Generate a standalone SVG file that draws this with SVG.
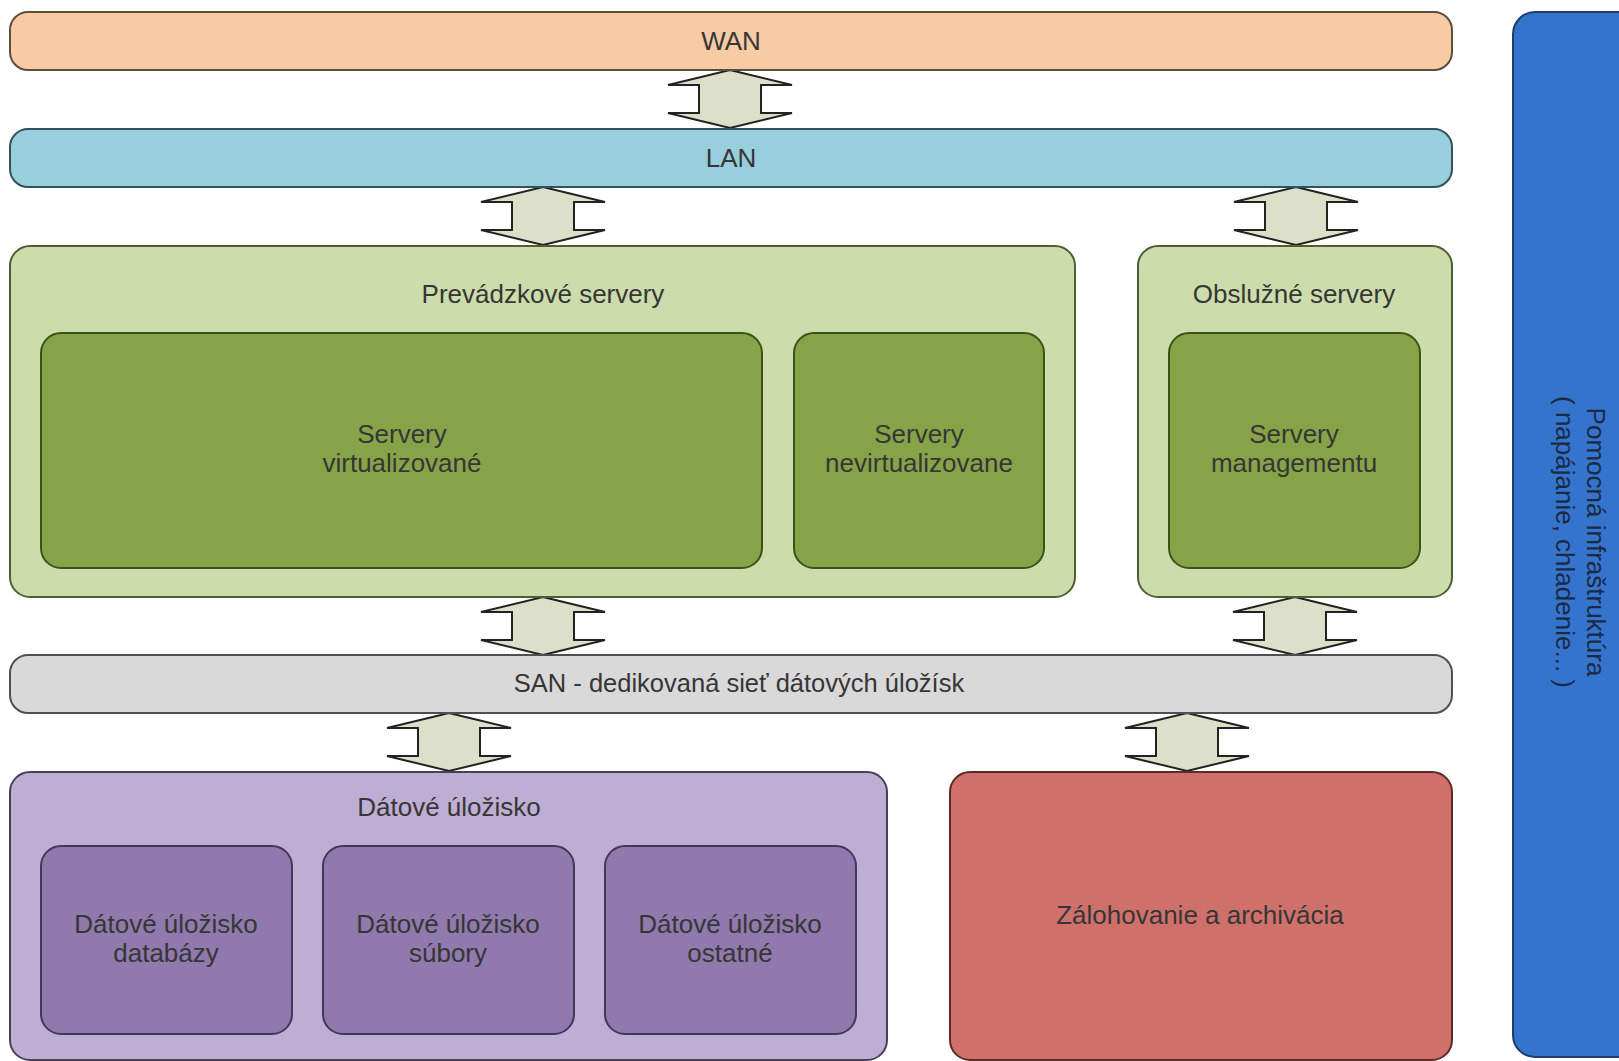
<svg xmlns="http://www.w3.org/2000/svg" xmlns:xlink="http://www.w3.org/1999/xlink" width="1619" height="1061" viewBox="0 0 1619 1061">
<style>
text{font-family:"Liberation Sans",Arial,sans-serif;font-size:26px;fill:#363636;text-anchor:middle}
.arr{fill:#dde0c9;stroke:#222;stroke-width:2;stroke-linejoin:miter}
.wan{fill:#f9cba5;stroke:#5e4c3c;stroke-width:2}
.lan{fill:#97cfdd;stroke:#34525c;stroke-width:2}
.gOut{fill:#cddcab;stroke:#4f5f35;stroke-width:2}
.gIn{fill:#86a447;stroke:#3b5218;stroke-width:2}
.san{fill:#d9d9d9;stroke:#505050;stroke-width:2}
.pOut{fill:#bfaed3;stroke:#4a4055;stroke-width:2}
.pIn{fill:#9079ac;stroke:#45365c;stroke-width:2}
.red{fill:#cf716a;stroke:#5a2b28;stroke-width:2}
.blue{fill:#3474cc;stroke:#1d3e6e;stroke-width:2}
.bt{fill:#1a2a44}
.sm{font-size:25.5px}
</style>
<defs>
<path id="arr" d="M0,0 L62,15 L31,15 L31,43 L62,43 L0,58 L-62,43 L-31,43 L-31,15 L-62,15 Z"/>
</defs>
<rect width="1619" height="1061" fill="#fff"/>
<g id="connectors">
<use xlink:href="#arr" class="arr" x="730" y="70"/>
<use xlink:href="#arr" class="arr" x="543" y="187"/>
<use xlink:href="#arr" class="arr" x="1296" y="187"/>
<use xlink:href="#arr" class="arr" x="543" y="597"/>
<use xlink:href="#arr" class="arr" x="1295" y="597"/>
<use xlink:href="#arr" class="arr" x="449" y="713"/>
<use xlink:href="#arr" class="arr" x="1187" y="713"/>
</g>
<g id="wan"><rect class="wan" x="10" y="12" width="1442" height="58" rx="18"/><text x="731" y="50">WAN</text></g>
<g id="lan"><rect class="lan" x="10" y="129" width="1442" height="58" rx="18"/><text x="731" y="167">LAN</text></g>
<g id="prevadzkove"><rect class="gOut" x="10" y="246" width="1065" height="351" rx="20"/><text x="543" y="303">Prevádzkové servery</text></g>
<g id="virtualizovane"><rect class="gIn" x="41" y="333" width="721" height="235" rx="20"/><text x="402" y="443">Servery</text><text x="402" y="472">virtualizované</text></g>
<g id="nevirtualizovane"><rect class="gIn" x="794" y="333" width="250" height="235" rx="20"/><text x="919" y="443">Servery</text><text x="919" y="472">nevirtualizovane</text></g>
<g id="obsluzne"><rect class="gOut" x="1138" y="246" width="314" height="351" rx="20"/><text x="1294" y="303">Obslužné servery</text></g>
<g id="managementu"><rect class="gIn" x="1169" y="333" width="251" height="235" rx="20"/><text x="1294" y="443">Servery</text><text x="1294" y="472">managementu</text></g>
<g id="san"><rect class="san" x="10" y="655" width="1442" height="58" rx="18"/><text class="sm" x="739" y="692">SAN - dedikovaná sieť dátových úložísk</text></g>
<g id="datove"><rect class="pOut" x="10" y="772" width="877" height="288" rx="20"/><text x="449" y="816">Dátové úložisko</text></g>
<g id="databazy"><rect class="pIn" x="41" y="846" width="251" height="188" rx="20"/><text x="166" y="933">Dátové úložisko</text><text x="166" y="962">databázy</text></g>
<g id="subory"><rect class="pIn" x="323" y="846" width="251" height="188" rx="20"/><text x="448" y="933">Dátové úložisko</text><text x="448" y="962">súbory</text></g>
<g id="ostatne"><rect class="pIn" x="605" y="846" width="251" height="188" rx="20"/><text x="730" y="933">Dátové úložisko</text><text x="730" y="962">ostatné</text></g>
<g id="zalohovanie"><rect class="red" x="950" y="772" width="502" height="288" rx="20"/><text x="1200" y="924">Zálohovanie a archivácia</text></g>
<g id="pomocna"><rect class="blue" x="1513" y="12" width="140" height="1045" rx="22"/>
<g transform="translate(1587,542) rotate(90)"><text class="bt" x="0" y="0">Pomocná infraštruktúra</text><text class="bt" x="0" y="31">( napájanie, chladenie... )</text></g></g>
</svg>
